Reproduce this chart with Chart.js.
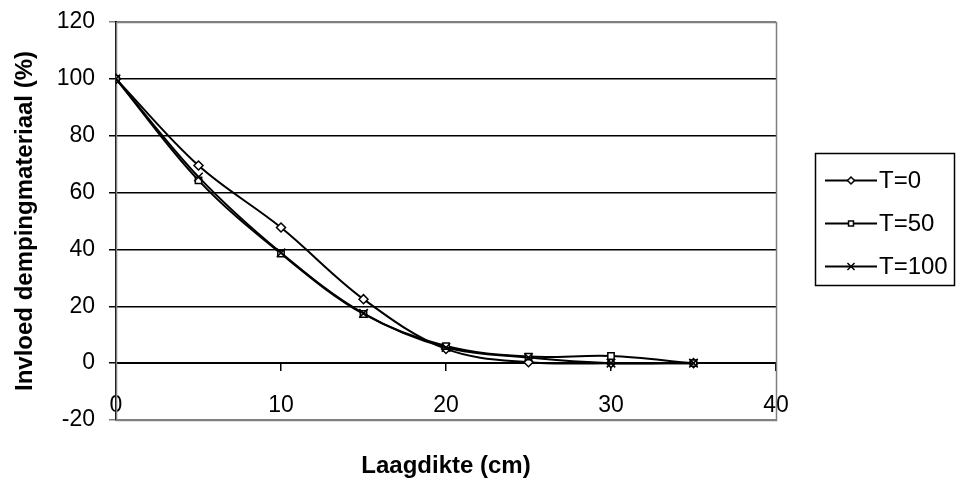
<!DOCTYPE html>
<html lang="nl">
<head>
<meta charset="UTF-8">
<title>Invloed dempingmateriaal</title>
<script src="https://cdn.jsdelivr.net/npm/chart.js"></script>
<style>
  html, body { margin: 0; padding: 0; background: #fff; }
  #wrap { width: 956px; height: 480px; position: relative; }
</style>
</head>
<body>
<div id="wrap"><canvas id="chart" width="956" height="480"></canvas></div>
<script>
// laagdikte in cm
const laagdikte = [0, 5, 10, 15, 20, 25, 30, 35];
const reeksNamen = ['T=0', 'T=50', 'T=100'];
const t0   = [100, 69.5, 47.7, 22.5, 5.0, 0.3, 0.0, 0.0];
const t50  = [100, 64.3, 38.5, 17.3, 6.0, 2.3, 2.5, 0.0];
const t100 = [100, 65.5, 38.8, 17.5, 5.5, 2.0, 0.0, 0.0];
const yTicks = [-20, 0, 20, 40, 60, 80, 100, 120];
const xTicks = [0, 10, 20, 30, 40];

const puntStijlen = ['rectRot', 'rect', 'crossRot'];
const font = 'Liberation Sans, Arial, sans-serif';

function punten(ys) {
  return laagdikte.map((x, i) => ({ x: x, y: ys[i] }));
}

const reeksen = [t0, t50, t100].map((ys, i) => ({
  label: reeksNamen[i],
  data: punten(ys),
  order: 2 - i,
  borderColor: '#000',
  backgroundColor: '#fff',
  borderWidth: 2,
  pointStyle: puntStijlen[i],
  pointRadius: i === 2 ? 6 : 4.5,
  pointBorderWidth: 1.5,
  pointBorderColor: '#000',
  pointBackgroundColor: '#fff',
  tension: 0.35,
  fill: false
}));

// kader om plotgebied, astitels en legenda met kader
const extra = {
  id: 'extra',
  beforeDatasetsDraw(chart) {
    const c = chart.ctx, a = chart.chartArea;
    c.save();
    c.strokeStyle = '#808080';
    c.lineWidth = 1.5;
    c.strokeRect(Math.round(a.left) + 0.5, Math.round(a.top) + 0.5,
      Math.round(a.right - a.left), Math.round(a.bottom - a.top));
    c.restore();
  },
  afterDraw(chart) {
    const c = chart.ctx, a = chart.chartArea;
    c.save();
    c.fillStyle = '#000';
    c.textAlign = 'center';
    c.textBaseline = 'middle';
    c.font = 'bold 24px ' + font;
    c.fillText('Laagdikte (cm)', (a.left + a.right) / 2, 466);
    c.translate(25, (a.top + a.bottom) / 2);
    c.rotate(-Math.PI / 2);
    c.fillText('Invloed dempingmateriaal (%)', 0, 0);
    c.restore();

    // legenda
    c.save();
    c.strokeStyle = '#000';
    c.lineWidth = 1.5;
    c.strokeRect(815.5, 153.5, 139, 132);
    const rijen = [180, 223, 266];
    reeksen.forEach((ds, i) => {
      const y = rijen[i];
      c.beginPath();
      c.moveTo(825, y + 0.5);
      c.lineTo(877, y + 0.5);
      c.lineWidth = 2;
      c.strokeStyle = '#000';
      c.stroke();
      c.fillStyle = '#fff';
      c.strokeStyle = '#000';
      c.lineWidth = 1.5;
      Chart.helpers.drawPoint(c, { pointStyle: ds.pointStyle, radius: i === 2 ? 5 : 3.5, rotation: 0, borderWidth: 1.5 }, 851, y + 0.5);
      c.fillStyle = '#000';
      c.font = '24px ' + font;
      c.textAlign = 'left';
      c.textBaseline = 'middle';
      c.fillText(ds.label, 879, y + 1);
    });
    c.restore();
  }
};

new Chart(document.getElementById('chart'), {
  type: 'line',
  data: { datasets: reeksen },
  options: {
    responsive: false,
    animation: false,
    layout: { padding: { top: 22, right: 180, bottom: 60, left: 0 } },
    plugins: { legend: { display: false }, tooltip: { enabled: false } },
    scales: {
      x: {
        type: 'linear',
        position: { y: 0 },
        min: 0, max: 40,
        afterBuildTicks: s => { s.ticks = xTicks.map(v => ({ value: v })); },
        afterFit: s => { s.paddingLeft = 0; s.paddingRight = 0; },
        ticks: { color: '#000', font: { family: font, size: 23 }, padding: 22, maxRotation: 0 },
        grid: { drawOnChartArea: false, drawTicks: true, tickLength: 7, color: '#000', lineWidth: 1.5 },
        border: { display: true, color: '#000', width: 2 }
      },
      y: {
        min: -20, max: 120,
        afterBuildTicks: s => { s.ticks = yTicks.map(v => ({ value: v })); },
        afterFit: s => { s.width = 116; s.paddingTop = 0; s.paddingBottom = 0; },
        ticks: { color: '#000', font: { family: font, size: 23 }, padding: 14 },
        grid: {
          color: ctx => (ctx.tick && (ctx.tick.value === 120 || ctx.tick.value === -20)) ? '#808080' : '#000',
          lineWidth: 1.5, tickLength: 7, drawTicks: true
        },
        border: { display: true, color: '#000', width: 2 }
      }
    }
  },
  plugins: [extra]
});
</script>
</body>
</html>
